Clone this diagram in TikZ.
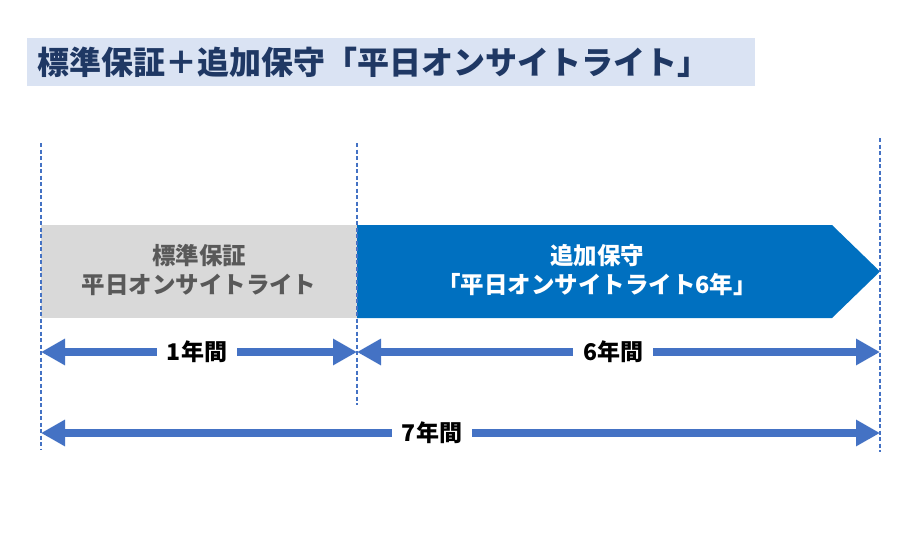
\documentclass[tikz,border=0pt]{standalone}
\usepackage{fontspec}
\setmainfont{Noto Sans CJK JP}
\usetikzlibrary{arrows.meta}
\definecolor{titlebg}{HTML}{DAE3F3}
\definecolor{titlefg}{HTML}{1F3864}
\definecolor{boxgray}{HTML}{D9D9D9}
\definecolor{graytext}{HTML}{595959}
\definecolor{mainblue}{HTML}{0070C0}
\definecolor{arrblue}{HTML}{4472C4}
\begin{document}
\begin{tikzpicture}[x=1pt,y=-1pt,
  vdash/.style={draw=arrblue,line width=1.3pt,dash pattern=on 4pt off 2.5pt},
  arr/.style={draw=arrblue,line width=8pt,-{Triangle[length=24pt,width=25pt]}},
  lab/.style={font=\fontsize{23}{26}\selectfont\bfseries,inner xsep=10pt,inner ysep=0pt},
  boxtext/.style={font=\fontsize{23.5}{29}\selectfont\bfseries,align=center}]
\useasboundingbox (0,0) rectangle (906,542);
\fill[white] (0,0) rectangle (906,542);
% title
\node[fill=titlebg,minimum width=728pt,minimum height=48pt,anchor=north west,inner sep=0pt] (band) at (27,38) {};
\node[anchor=west,text=titlefg,font=\fontsize{32}{34}\selectfont\bfseries,inner sep=0pt] (title) at (37,62) {標準保証＋追加保守「平日オンサイトライト」};
% boxes
\node[fill=boxgray,minimum width=316pt,minimum height=93pt,anchor=north west,inner sep=0pt] (std) at (41,225) {};
\node[boxtext,text=graytext] (stdtext) at (199,270) {標準保証\\平日オンサイトライト};
\fill[mainblue] (357,225) -- (832,225) -- (880,271.5) -- (832,318) -- (357,318) -- cycle;
\node[boxtext,text=white] (addtext) at (597,270) {追加保守\\「平日オンサイトライト6年」};
% coordinates
\coordinate (d1t) at (41,143); \coordinate (d1b) at (41,450);
\coordinate (d2t) at (357,143); \coordinate (d2b) at (357,405);
\coordinate (d3t) at (880,138); \coordinate (d3b) at (880,452);
\coordinate (a1l) at (41,352); \coordinate (a1r) at (357,352);
\coordinate (a2l) at (357,352); \coordinate (a2r) at (880,352);
\coordinate (a3l) at (41,433); \coordinate (a3r) at (880,433);
% labels
\node[lab] (l1) at (197,352) {1年間};
\node[lab] (l6) at (613,352) {6年間};
\node[lab] (l7) at (432,433) {7年間};
% arrows
\draw[arr] (l1.west) -- (a1l);
\draw[arr] (l1.east) -- (a1r);
\draw[arr] (l6.west) -- (a2l);
\draw[arr] (l6.east) -- (a2r);
\draw[arr] (l7.west) -- (a3l);
\draw[arr] (l7.east) -- (a3r);
% dashed guides
\draw[vdash] (d1t) -- (d1b);
\draw[vdash] (d2t) -- (d2b);
\draw[vdash] (d3t) -- (d3b);
\end{tikzpicture}
\end{document}
